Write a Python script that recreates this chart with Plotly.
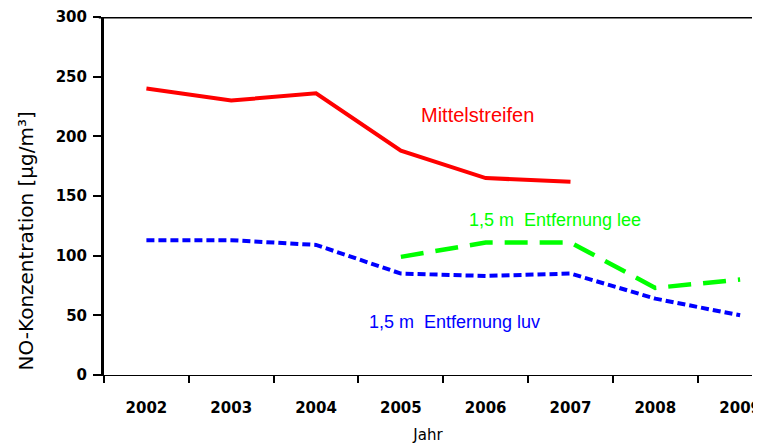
import plotly.graph_objects as go

years = ["2002", "2003", "2004", "2005", "2006", "2007", "2008", "2009"]
mittel_years = ["2002", "2003", "2004", "2005", "2006", "2007"]
mittel = [240, 230, 236, 188, 165, 162]
lee_years = ["2005", "2006", "2007", "2008", "2009"]
lee = [99, 111, 111, 73, 80]
luv_years = years
luv = [113, 113, 109, 85, 83, 85, 64, 50]
y_ticks = [0, 50, 100, 150, 200, 250, 300]

W, H = 753, 439
ML, MR, MT, MB = 96, 0, 8, 72
plot_w = W - ML - MR
plot_h = H - MT - MB

fig = go.Figure()
fig.add_trace(go.Scatter(x=mittel_years, y=mittel, mode="lines",
                         line=dict(color="#ff0000", width=4), name="Mittelstreifen"))
fig.add_trace(go.Scatter(x=lee_years, y=lee, mode="lines",
                         line=dict(color="#00ff00", width=4.5, dash="23px,12px"), name="lee"))
fig.add_trace(go.Scatter(x=luv_years, y=luv, mode="lines",
                         line=dict(color="#0000ff", width=4, dash="8px,4px"), name="luv"))

fig.add_annotation(x=3.907, y=218, xref="x", yref="y", text="Mittelstreifen",
                   showarrow=False, font=dict(family="Liberation Sans", size=20, color="#ff0000"))
fig.add_annotation(x=4.814, y=129.5, xref="x", yref="y", text="1,5 m  Entfernung lee",
                   showarrow=False, font=dict(family="Liberation Sans", size=18, color="#00ff00"))
fig.add_annotation(x=3.628, y=44.3, xref="x", yref="y", text="1,5 m  Entfernung luv",
                   showarrow=False, font=dict(family="Liberation Sans", size=18, color="#0000ff"))
# y-axis title as rotated text (sits a little below the plot centre in the reference)
fig.add_annotation(x=(17 - ML) / plot_w, y=(H - MB - 233) / plot_h, xref="paper", yref="paper",
                   text="NO-Konzentration [µg/m³]", showarrow=False, textangle=-90,
                   xanchor="center", yanchor="middle",
                   font=dict(family="DejaVu Sans", size=20, color="black"))

fig.add_shape(type="line", xref="paper", yref="y", x0=-0.008, x1=1, y0=300, y1=300,
              line=dict(color="black", width=3))

fig.update_layout(
    width=W, height=H,
    margin=dict(l=ML, r=MR, t=MT, b=MB),
    paper_bgcolor="white", plot_bgcolor="white",
    showlegend=False,
    font=dict(family="DejaVu Sans", size=15, color="black"),
    xaxis=dict(type="category", categoryorder="array", categoryarray=years,
               range=[-0.5, 7.14], tickson="boundaries", ticks="outside", ticklen=7,
               tickwidth=2, tickcolor="black", showline=True, linecolor="black", linewidth=1,
               showgrid=False, zeroline=False, ticklabelstandoff=19,
               title=dict(text="Jahr", font=dict(family="DejaVu Sans", size=15), standoff=13),
               tickfont=dict(family="DejaVu Sans", size=15, weight="bold")),
    yaxis=dict(range=[0, 300], tickvals=y_ticks, ticks="outside", ticklen=8, tickwidth=2,
               tickcolor="black", showline=True, linecolor="black", linewidth=3,
               showgrid=False, zeroline=False, ticklabelstandoff=3, ticklabeloverflow="allow",
               tickfont=dict(family="DejaVu Sans", size=15, weight="bold")),
)

fig.write_html("out.html")
